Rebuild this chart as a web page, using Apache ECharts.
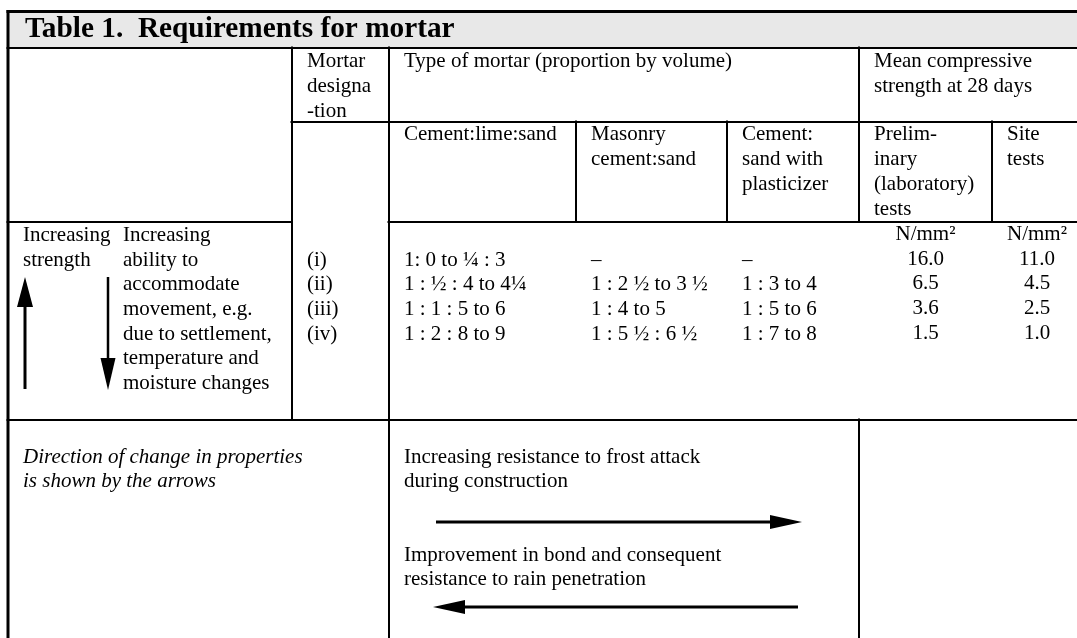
<!DOCTYPE html>
<html>
<head>
<meta charset="utf-8">
<script src="https://cdn.jsdelivr.net/npm/echarts@6/dist/echarts.min.js"></script>
<style>
html,body{margin:0;padding:0;background:#fff;}
#c{width:1077px;height:638px;}
</style>
</head>
<body>
<div id="c"></div>
<script>
// ---------- content (data) ----------
const titleText = 'Table 1.  Requirements for mortar';
const headDesignation = ['Mortar', 'designa', '-tion'];
const headType = ['Type of mortar (proportion by volume)'];
const headStrength = ['Mean compressive', 'strength at 28 days'];
const subHeads = [
  ['Cement:lime:sand'],
  ['Masonry', 'cement:sand'],
  ['Cement:', 'sand with', 'plasticizer'],
  ['Prelim-', 'inary', '(laboratory)', 'tests'],
  ['Site', 'tests']
];
const strengthLabel = ['Increasing', 'strength'];
const movementLabel = ['Increasing', 'ability to', 'accommodate', 'movement, e.g.', 'due to settlement,', 'temperature and', 'moisture changes'];
const designations = ['(i)', '(ii)', '(iii)', '(iv)'];
const cementLimeSand = ['1: 0 to \u00BC : 3', '1 : \u00BD : 4 to 4\u00BC', '1 : 1 : 5 to 6', '1 : 2 : 8 to 9'];
const masonryCementSand = ['\u2013', '1 : 2 \u00BD to 3 \u00BD', '1 : 4 to 5', '1 : 5 \u00BD : 6 \u00BD'];
const cementSandPlasticizer = ['\u2013', '1 : 3 to 4', '1 : 5 to 6', '1 : 7 to 8'];
const strengthUnit = 'N/mm\u00B2';
const preliminaryTests = [16.0, 6.5, 3.6, 1.5];
const siteTests = [11.0, 4.5, 2.5, 1.0];
const noteText = ['Direction of change in properties', 'is shown by the arrows'];
const frostText = ['Increasing resistance to frost attack', 'during construction'];
const bondText = ['Improvement in bond and consequent', 'resistance to rain penetration'];

// ---------- layout (positions / styles) ----------
const L = {
  colX: [8, 292, 389, 576, 727, 859, 992, 1082],
  rowY: [11.5, 48, 122, 222, 420, 645],
  pad: 15,
  fontFamily: '"Liberation Serif", "Times New Roman", serif',
  size: 21,
  titleSize: 29.3,
  barColor: '#e8e8e8'
};
const F = (s, extra) => (extra ? extra + ' ' : '') + s + 'px ' + L.fontFamily;
const cx = L.colX, ry = L.rowY;

// border segments by grid indices
const hSegs = [ // [row, colFrom, colTo, width]
  [0, 0, 7, 3], [1, 0, 7, 2], [2, 1, 7, 2], [3, 0, 1, 2], [3, 2, 7, 2], [4, 0, 7, 2]
];
const vSegs = [ // [col, rowFrom, rowTo, width]
  [0, 0, 5, 3], [1, 1, 4, 2], [2, 1, 5, 2], [3, 2, 3, 2], [4, 2, 3, 2], [5, 1, 3, 2], [5, 4, 5, 2], [6, 2, 3, 2]
];
const segs = [];
hSegs.forEach(([r, a, b, w]) => segs.push([cx[a] - 1.5, ry[r], cx[b] + 1, ry[r], w]));
vSegs.forEach(([c, a, b, w]) => segs.push([cx[c], ry[a] - 1.5, cx[c], ry[b] + 1, w]));

// texts
const texts = [];
function block(lines, x, y0, lh, font, size, align) {
  lines.forEach((s, i) => texts.push({ x: x, y: y0 + i * lh, text: String(s), font: font, size: size, align: align || 'left' }));
}
const body = F(L.size);
block([titleText], 25, 38.5, 0, F(L.titleSize, 'bold'), L.titleSize);
block(headDesignation, cx[1] + L.pad, ry[1] + 20, 25, body, L.size);
block(headType, cx[2] + L.pad, ry[1] + 20, 25, body, L.size);
block(headStrength, cx[5] + L.pad, ry[1] + 20, 25, body, L.size);
subHeads.forEach((lines, i) => block(lines, cx[2 + i] + L.pad, ry[2] + 19, 25, body, L.size));
const r3 = ry[3] + 20, lh3 = 24.6;
block(strengthLabel, cx[0] + L.pad, r3, lh3, body, L.size);
block(movementLabel, cx[0] + 115, r3, lh3, body, L.size);
block(designations, cx[1] + L.pad, r3 + lh3, lh3, body, L.size);
block(cementLimeSand, cx[2] + L.pad, r3 + lh3, lh3, body, L.size);
block(masonryCementSand, cx[3] + L.pad, r3 + lh3, lh3, body, L.size);
block(cementSandPlasticizer, cx[4] + L.pad, r3 + lh3, lh3, body, L.size);
block([strengthUnit].concat(preliminaryTests.map(v => v.toFixed(1))), (cx[5] + cx[6]) / 2, r3 - 1, lh3, body, L.size, 'center');
block([strengthUnit].concat(siteTests.map(v => v.toFixed(1))), (cx[6] + cx[7]) / 2, r3 - 1, lh3, body, L.size, 'center');
block(noteText, cx[0] + L.pad, ry[4] + 44, 24, F(L.size, 'italic'), L.size);
block(frostText, cx[2] + L.pad, ry[4] + 44, 24, body, L.size);
block(bondText, cx[2] + L.pad, ry[4] + 142, 24, body, L.size);

// arrows
const arrows = [
  { tail: [25, 389], tip: [25, 277], head: 30, hw: 16, w: 3 },
  { tail: [108, 277], tip: [108, 390], head: 32, hw: 15, w: 2.5 },
  { tail: [436, 522], tip: [802, 522], head: 32, hw: 14, w: 3 },
  { tail: [798, 607], tip: [433, 607], head: 32, hw: 14, w: 3 }
];

const chart = echarts.init(document.getElementById('c'), null, { renderer: 'canvas' });
chart.setOption({
  animation: false,
  backgroundColor: '#ffffff',
  grid: { left: 0, right: 0, top: 0, bottom: 0 },
  xAxis: { type: 'value', min: 0, max: 1077, show: false },
  yAxis: { type: 'value', min: 0, max: 638, inverse: true, show: false },
  series: [
    {
      type: 'custom', name: 'titleBar', clip: false, silent: true,
      data: [[cx[0], ry[0], cx[7], ry[1]]],
      renderItem: function (params, api) {
        const p1 = api.coord([api.value(0), api.value(1)]);
        const p2 = api.coord([api.value(2), api.value(3)]);
        return { type: 'rect', shape: { x: p1[0], y: p1[1], width: p2[0] - p1[0], height: p2[1] - p1[1] }, style: { fill: L.barColor } };
      }
    },
    {
      type: 'custom', name: 'rules', clip: false, silent: true,
      data: segs,
      renderItem: function (params, api) {
        const p1 = api.coord([api.value(0), api.value(1)]);
        const p2 = api.coord([api.value(2), api.value(3)]);
        return { type: 'line', shape: { x1: p1[0], y1: p1[1], x2: p2[0], y2: p2[1] }, style: { stroke: '#000', lineWidth: api.value(4) } };
      }
    },
    {
      type: 'custom', name: 'arrows', clip: false, silent: true,
      data: arrows.map(a => [a.tail[0], a.tail[1], a.tip[0], a.tip[1]]),
      renderItem: function (params, api) {
        const a = arrows[params.dataIndex];
        const t = api.coord([api.value(0), api.value(1)]);
        const p = api.coord([api.value(2), api.value(3)]);
        const dx = p[0] - t[0], dy = p[1] - t[1];
        const len = Math.sqrt(dx * dx + dy * dy);
        const ux = dx / len, uy = dy / len;
        const bx = p[0] - ux * a.head, by = p[1] - uy * a.head;
        const nx = -uy, ny = ux;
        return {
          type: 'group',
          children: [
            { type: 'line', shape: { x1: t[0], y1: t[1], x2: bx + ux * 2, y2: by + uy * 2 }, style: { stroke: '#000', lineWidth: a.w } },
            { type: 'polygon', shape: { points: [[p[0], p[1]], [bx + nx * a.hw / 2, by + ny * a.hw / 2], [bx - nx * a.hw / 2, by - ny * a.hw / 2]] }, style: { fill: '#000' } }
          ]
        };
      }
    },
    {
      type: 'custom', name: 'texts', clip: false, silent: true,
      data: texts.map(t => [t.x, t.y]),
      renderItem: function (params, api) {
        const t = texts[params.dataIndex];
        const p = api.coord([api.value(0), api.value(1)]);
        return {
          type: 'text',
          x: p[0], y: p[1] - t.size * 0.305,
          style: { text: t.text, font: t.font, fill: '#000', textAlign: t.align, textVerticalAlign: 'middle' }
        };
      }
    }
  ]
});
</script>
</body>
</html>
